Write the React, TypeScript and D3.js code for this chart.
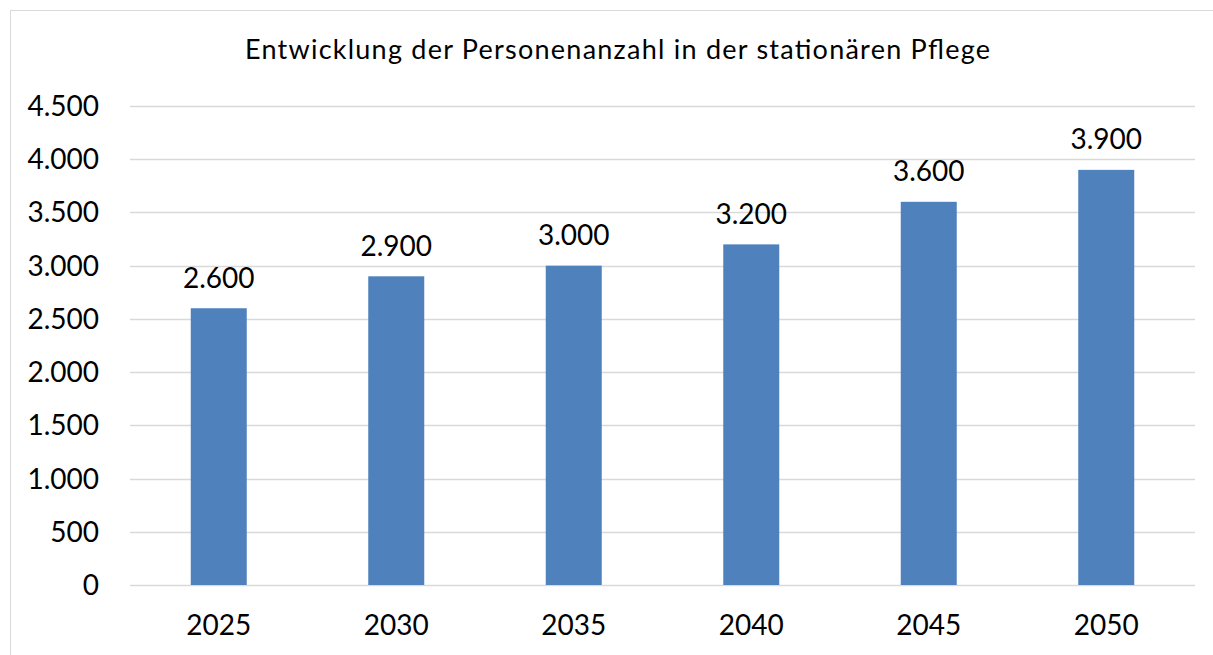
import React from "react";
import * as d3 from "d3";

const categories = ["2025", "2030", "2035", "2040", "2045", "2050"];
const values = [2600, 2900, 3000, 3200, 3600, 3900];
const yTicks = [0, 500, 1000, 1500, 2000, 2500, 3000, 3500, 4000, 4500];
const title = "Entwicklung der Personenanzahl in der stationären Pflege";

const W = 1213;
const H = 655;
const FONT = "Lato, 'Open Sans', sans-serif";

export default function App() {
  const x = d3
    .scaleBand<string>()
    .domain(categories)
    .range([130, 1195])
    .paddingInner(0.6845)
    .paddingOuter(0.6845 / 2);
  const y = d3.scaleLinear().domain([0, 4500]).range([585, 106]);
  const fmt = (v: number) => d3.format(",")(v).replace(/,/g, ".");

  return (
    <svg
      width={W}
      height={H}
      style={{ position: "absolute", left: 0, top: 0, background: "#fff" }}
    >
      <rect x={10.5} y={10.5} width={W + 20} height={H + 20} fill="#fff" stroke="#D9D9D9" strokeWidth={1} />
      <text
        x={617.5}
        y={59}
        textAnchor="middle"
        fontFamily={FONT}
        fontSize={27}
        textLength={745}
        lengthAdjust="spacing"
        fill="#000"
      >
        {title}
      </text>
      {yTicks.map((t) => (
        <g key={t}>
          <line x1={130} x2={1195} y1={Math.round(y(t)) + 0.5} y2={Math.round(y(t)) + 0.5} stroke="#D9D9D9" strokeWidth={1.5} />
          <text x={99} y={y(t) + 10} textAnchor="end" fontFamily={FONT} fontSize={28} fill="#000">
            {fmt(t)}
          </text>
        </g>
      ))}
      {categories.map((c, i) => (
        <g key={c}>
          <rect x={x(c)!} y={y(values[i])} width={x.bandwidth()} height={y(0) - y(values[i])} fill="#4F81BD" />
          <text
            x={x(c)! + x.bandwidth() / 2}
            y={y(values[i]) - 20.5}
            textAnchor="middle"
            fontFamily={FONT}
            fontSize={28}
            fill="#000"
          >
            {fmt(values[i])}
          </text>
          <text x={x(c)! + x.bandwidth() / 2} y={635} textAnchor="middle" fontFamily={FONT} fontSize={28} fill="#000">
            {c}
          </text>
        </g>
      ))}
    </svg>
  );
}
